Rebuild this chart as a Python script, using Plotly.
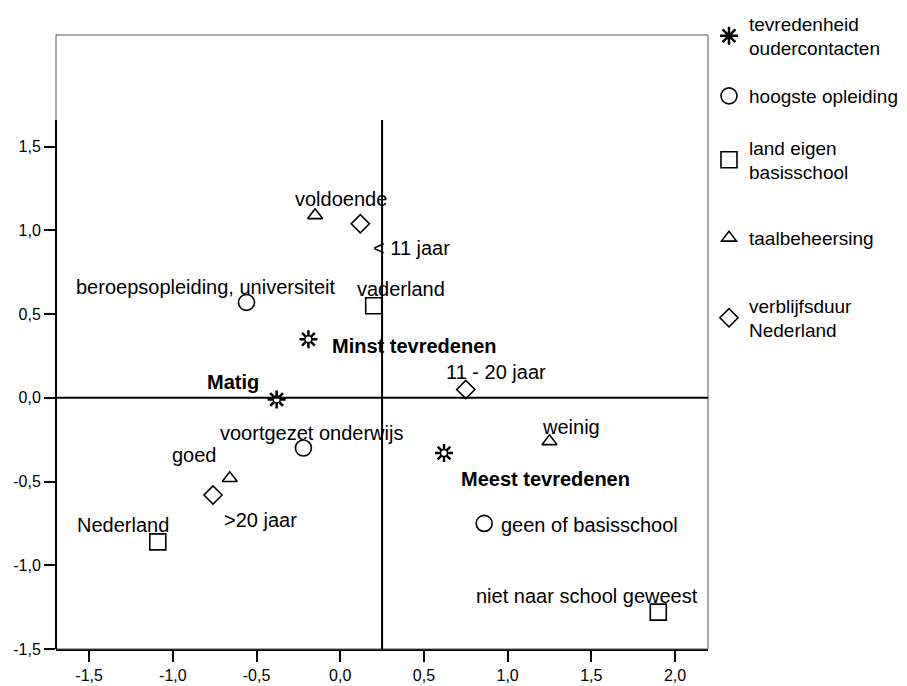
import plotly.graph_objects as go

# ---- data ----
tevr_labels = ["Minst tevredenen", "Matig", "Meest tevredenen"]
tevr_x = [-0.19, -0.38, 0.62]
tevr_y = [0.35, -0.01, -0.33]

opl_labels = ["beroepsopleiding, universiteit", "voortgezet onderwijs", "geen of basisschool"]
opl_x = [-0.56, -0.22, 0.86]
opl_y = [0.57, -0.30, -0.75]

land_labels = ["vaderland", "Nederland", "niet naar school geweest"]
land_x = [0.20, -1.09, 1.90]
land_y = [0.55, -0.86, -1.28]

taal_labels = ["voldoende", "goed", "weinig"]
taal_x = [-0.15, -0.66, 1.25]
taal_y = [1.09, -0.48, -0.26]

verb_labels = ["< 11 jaar", "11 - 20 jaar", ">20 jaar"]
verb_x = [0.12, 0.75, -0.76]
verb_y = [1.04, 0.05, -0.58]

series_names = ["tevredenheid<br>oudercontacten", "hoogste opleiding",
                "land eigen<br>basisschool", "taalbeheersing",
                "verblijfsduur<br>Nederland"]

x_tickvals = [-1.5, -1.0, -0.5, 0.0, 0.5, 1.0, 1.5, 2.0]
x_ticktext = ["-1,5", "-1,0", "-0,5", "0,0", "0,5", "1,0", "1,5", "2,0"]
y_tickvals = [-1.5, -1.0, -0.5, 0.0, 0.5, 1.0, 1.5]
y_ticktext = ["-1,5", "-1,0", "-0,5", "0,0", "0,5", "1,0", "1,5"]

ref_x = 0.25   # vertical reference line
ref_y = 0.0    # horizontal reference line

# ---- styling / layout ----
FONT = "Arial, Liberation Sans, sans-serif"
LBL = 20
XR = [-1.698, 2.197]
YR = [-1.5, 2.167]
AX_TOP = 1.66

# label offsets in pixels (dx right, dy up), per series
tevr_off = [(106, -7), (-44, 18), (101, -26)]
opl_off = [(-41, 15), (8, 15), (105, -2)]
land_off = [(27, 17), (-35, 17), (-71, 16)]
taal_off = [(26, 16), (-35, 23), (22, 14)]
verb_off = [(51, -24), (30, 17), (47, -25)]

fig = go.Figure()

line = dict(color="black", width=1.6)

# star: asterisk spikes + white centre
fig.add_trace(go.Scatter(x=tevr_x, y=tevr_y, mode="markers", name=series_names[0],
                         marker=dict(symbol="asterisk-open", size=15, color="black",
                                     line=dict(color="black", width=2.5)),
                         legend="legend", hoverinfo="skip"))
fig.add_trace(go.Scatter(x=tevr_x, y=tevr_y, mode="markers", showlegend=False,
                         marker=dict(symbol="circle", size=7, color="white",
                                     line=dict(color="black", width=1.5)),
                         hoverinfo="skip"))
fig.add_trace(go.Scatter(x=opl_x, y=opl_y, mode="markers", name=series_names[1],
                         marker=dict(symbol="circle-open", size=16, color="black", line=line),
                         legend="legend2"))
fig.add_trace(go.Scatter(x=land_x, y=land_y, mode="markers", name=series_names[2],
                         marker=dict(symbol="square-open", size=16, color="black", line=line),
                         legend="legend3"))
fig.add_trace(go.Scatter(x=taal_x, y=taal_y, mode="markers", name=series_names[3],
                         marker=dict(symbol="triangle-up-open", size=13, color="black", line=line),
                         legend="legend4"))
fig.add_trace(go.Scatter(x=verb_x, y=verb_y, mode="markers", name=series_names[4],
                         marker=dict(symbol="diamond-open", size=14, color="black", line=line),
                         legend="legend5"))

annotations = []
groups = [
    (tevr_labels, tevr_x, tevr_y, tevr_off, True),
    (opl_labels, opl_x, opl_y, opl_off, False),
    (land_labels, land_x, land_y, land_off, False),
    (taal_labels, taal_x, taal_y, taal_off, False),
    (verb_labels, verb_x, verb_y, verb_off, False),
]
for labels, xs, ys, offs, bold in groups:
    for lab, xv, yv, (dx, dy) in zip(labels, xs, ys, offs):
        annotations.append(dict(
            x=xv, y=yv, xref="x", yref="y", showarrow=False,
            text=f"<b>{lab}</b>" if bold else lab,
            xanchor="center", yanchor="middle", xshift=dx, yshift=dy,
            font=dict(family=FONT, size=LBL, color="black")))

shapes = [
    # thin outer frame
    dict(type="rect", xref="paper", yref="paper", x0=0, x1=1, y0=0, y1=1,
         line=dict(color="#555555", width=1)),
    # thick left axis (partial)
    dict(type="line", xref="paper", yref="y", x0=0, x1=0, y0=YR[0], y1=AX_TOP,
         line=dict(color="black", width=2)),
    # reference lines
    dict(type="line", xref="paper", yref="y", x0=0, x1=1, y0=ref_y, y1=ref_y,
         line=dict(color="black", width=2)),
    dict(type="line", xref="x", yref="y", x0=ref_x, x1=ref_x, y0=YR[0], y1=AX_TOP,
         line=dict(color="black", width=2)),
]

# the page body adds an 8px margin, so the figure is drawn 8px smaller
PAGE_OFF = 8
W, HH = 907 - PAGE_OFF, 686 - PAGE_OFF
M_L, M_R, M_T, M_B = 56 - PAGE_OFF, 199, 35 - PAGE_OFF, 37


def ly(py):
    return (HH - (py - PAGE_OFF)) / HH


leg_common = dict(x=(709 - PAGE_OFF) / W, xanchor="left", yanchor="middle",
                  xref="container", yref="container", bgcolor="rgba(0,0,0,0)",
                  font=dict(family=FONT, size=19, color="black"), borderwidth=0)

fig.update_layout(
    width=W, height=HH,
    margin=dict(l=M_L, r=M_R, t=M_T, b=M_B, autoexpand=False),
    paper_bgcolor="white", plot_bgcolor="white",
    font=dict(family=FONT, color="black"),
    xaxis=dict(range=XR, showgrid=False, zeroline=False, showline=True,
               linecolor="black", linewidth=2, mirror=False,
               ticks="outside", ticklen=11, tickwidth=2, tickcolor="black",
               tickvals=x_tickvals, ticktext=x_ticktext,
               tickfont=dict(family=FONT, size=16, color="black")),
    yaxis=dict(range=YR, showgrid=False, zeroline=False, showline=False,
               ticks="outside", ticklen=11, tickwidth=2, tickcolor="black",
               tickvals=y_tickvals, ticktext=y_ticktext,
               tickfont=dict(family=FONT, size=16, color="black")),
    legend=dict(y=ly(36), **leg_common),
    legend2=dict(y=ly(96), **leg_common),
    legend3=dict(y=ly(160), **leg_common),
    legend4=dict(y=ly(238), **leg_common),
    legend5=dict(y=ly(318), **leg_common),
    annotations=annotations,
    shapes=shapes,
)

fig.write_html("out.html")
